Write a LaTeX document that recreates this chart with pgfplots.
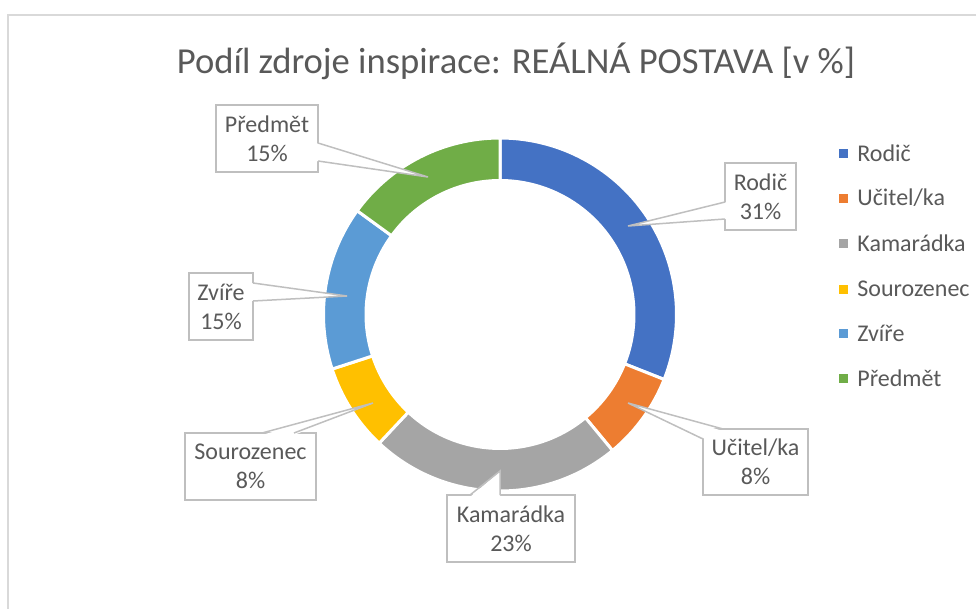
\documentclass[border=0pt]{standalone}
\usepackage{pgfplots}
\pgfplotsset{compat=1.18}
\usepackage{pgfplotstable}
\usepackage{fontspec}
\setmainfont{Carlito}

\definecolor{c0}{HTML}{4472C4}
\definecolor{c1}{HTML}{ED7D31}
\definecolor{c2}{HTML}{A5A5A5}
\definecolor{c3}{HTML}{FFC000}
\definecolor{c4}{HTML}{5B9BD5}
\definecolor{c5}{HTML}{70AD47}
\definecolor{txt}{HTML}{595959}
\definecolor{callout}{HTML}{BFBFBF}
\definecolor{frame}{HTML}{D9D9D9}

% share of each source, percent; ly = legend row (pixel y)
\pgfplotstableread[col sep=comma]{
name,pct,ly
Rodič,31,153
Učitel/ka,8,198
Kamarádka,23,243
Sourozenec,8,289
Zvíře,15,333
Předmět,15,378
}\shares

\newcommand\lbl{\fontsize{12}{14.5}\selectfont}

\begin{document}
\begin{tikzpicture}
\begin{axis}[width=488.5pt,height=305pt,scale only axis,
    xmin=0,xmax=977,ymin=0,ymax=610,y dir=reverse,
    hide axis,clip=false]

  % keep the whole canvas in the bounding box
  \path (axis cs:0,0) rectangle (axis cs:977,610);
  % chart frame
  \draw[frame,line width=0.6pt] (axis cs:976,15) -- (axis cs:8,15) -- (axis cs:8,609);

  \node[txt,font=\fontsize{18.3}{22}\selectfont] at (axis cs:516,61)
    {Podíl zdroje inspirace: REÁLNÁ POSTAVA [v \%]};

  % donut ring, clockwise from the top
  \def\angA{90}
  \pgfplotsforeachungrouped \i in {0,...,5}{%
    \pgfplotstablegetelem{\i}{pct}\of\shares
    \pgfmathsetmacro\angB{\angA-3.6*\pgfplotsretval}%
    \edef\seg{\noexpand\fill[c\i,draw=white,line width=1.5pt]
      ([shift={(axis cs:500,314.5)}]\angA:88.25pt)
      arc[start angle=\angA,end angle=\angB,radius=88.25pt]
      -- ([shift={(axis cs:500,314.5)}]\angB:67pt)
      arc[start angle=\angB,end angle=\angA,radius=67pt] -- cycle;}%
    \seg
    \global\let\angA\angB
  }

  % legend
  \pgfplotsforeachungrouped \i in {0,...,5}{%
    \pgfplotstablegetelem{\i}{name}\of\shares \let\nm\pgfplotsretval
    \pgfplotstablegetelem{\i}{ly}\of\shares \let\ly\pgfplotsretval
    \edef\leg{\noexpand\fill[c\i] (axis cs:839,\ly-4.5) rectangle (axis cs:848,\ly+4.5);
      \noexpand\node[txt,font=\noexpand\lbl,anchor=west,inner sep=0pt] at (axis cs:857,\ly) {\nm};}%
    \leg
  }

  % data label callouts
  \tikzset{cbox/.style={draw=callout,fill=white,line width=0.75pt},
           cline/.style={callout,line width=0.75pt}}
  % Rodic
  \draw[cbox] (axis cs:725,163) rectangle (axis cs:796,230);
  \fill[white] (axis cs:628,226) -- (axis cs:727,202) -- (axis cs:727,219) -- cycle;
  \draw[cline] (axis cs:725,202) -- (axis cs:628,226) -- (axis cs:725,219);
  \node[txt,font=\lbl,align=center] at (axis cs:760.5,196.5) {Rodič\\31\%};
  % Ucitel/ka
  \draw[cbox] (axis cs:703,429) rectangle (axis cs:808,495);
  \fill[white] (axis cs:628,403) -- (axis cs:723,431) -- (axis cs:705,431) -- (axis cs:705,439) -- cycle;
  \draw[cline] (axis cs:703,439) -- (axis cs:628,403) -- (axis cs:723,429);
  \node[txt,font=\lbl,align=center] at (axis cs:755.5,462) {Učitel/ka\\8\%};
  % Kamaradka
  \draw[cbox] (axis cs:447,495) rectangle (axis cs:575,562);
  \fill[white] (axis cs:470,497) -- (axis cs:500,471) -- (axis cs:500,497) -- cycle;
  \draw[cline] (axis cs:470,495) -- (axis cs:500,471) -- (axis cs:500,495);
  \node[txt,font=\lbl,align=center] at (axis cs:511,528.5) {Kamarádka\\23\%};
  % Sourozenec
  \draw[cbox] (axis cs:185,433) rectangle (axis cs:316,500);
  \fill[white] (axis cs:262,435) -- (axis cs:373,403) -- (axis cs:294,435) -- cycle;
  \draw[cline] (axis cs:262,433) -- (axis cs:373,403) -- (axis cs:294,433);
  \node[txt,font=\lbl,align=center] at (axis cs:250.5,466.5) {Sourozenec\\8\%};
  % Zvire
  \draw[cbox] (axis cs:189,273) rectangle (axis cs:253,340);
  \fill[white] (axis cs:251,283) -- (axis cs:347,296) -- (axis cs:251,301) -- cycle;
  \draw[cline] (axis cs:253,283) -- (axis cs:347,296) -- (axis cs:253,301);
  \node[txt,font=\lbl,align=center] at (axis cs:221,306.5) {Zvíře\\15\%};
  % Predmet
  \draw[cbox] (axis cs:216,105) rectangle (axis cs:318,172);
  \fill[white] (axis cs:316,143) -- (axis cs:428,177) -- (axis cs:316,161) -- cycle;
  \draw[cline] (axis cs:318,143) -- (axis cs:428,177) -- (axis cs:318,161);
  \node[txt,font=\lbl,align=center] at (axis cs:267,138.5) {Předmět\\15\%};
\end{axis}
\end{tikzpicture}
\end{document}
